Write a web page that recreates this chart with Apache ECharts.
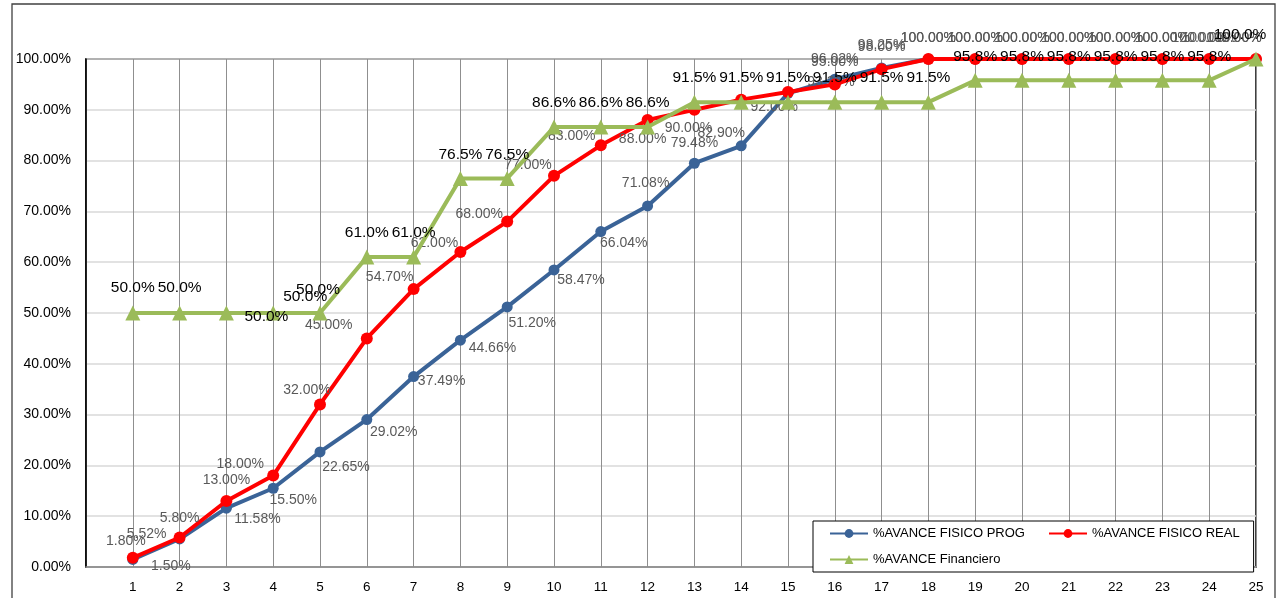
<!DOCTYPE html>
<html>
<head>
<meta charset="utf-8">
<script src="https://cdn.jsdelivr.net/npm/echarts@6/dist/echarts.min.js"></script>
<style>html,body{margin:0;padding:0;background:#fff}#c{width:1281px;height:598px}</style>
</head>
<body>
<div id="c"></div>
<script>
const categories = [1,2,3,4,5,6,7,8,9,10,11,12,13,14,15,16,17,18,19,20,21,22,23,24,25];
const fisicoProg = [1.50,5.52,11.58,15.50,22.65,29.02,37.49,44.66,51.20,58.47,66.04,71.08,79.48,82.90,93.26,96.02,98.25,100,100,100,100,100,100,100,100];
const fisicoReal = [1.80,5.80,13.00,18.00,32.00,45.00,54.70,62.00,68.00,77.00,83.00,88.00,90.00,92.00,93.50,95.00,98.00,100,100,100,100,100,100,100,100];
const financiero = [50.0,50.0,50.0,50.0,50.0,61.0,61.0,76.5,76.5,86.6,86.6,86.6,91.5,91.5,91.5,91.5,91.5,91.5,95.8,95.8,95.8,95.8,95.8,95.8,100.0];
const yTicks = [0,10,20,30,40,50,60,70,80,90,100];
const seriesNames = ['%AVANCE FISICO PROG','%AVANCE FISICO REAL','%AVANCE Financiero'];

const FONT = 'Liberation Sans';
// label offsets (label centre relative to point), null = hidden
const progOff = [[38,7],[-33,-5],[31,11],[20,12],[26,15],[27,13],[28,5],[32,8],[25,16],[27,10],[23,12],[-2,-23],[0,-20],[-20,-13],[43,-11],[0,-20],[0,-23],[0,-21],[0,-21],[0,-21],[0,-21],[0,-21],[0,-21],[-10,-21],[-22,-21]];
const realOff = [[-7,-17],[0,-19],[0,-21],[-33,-11],[-13,-14],[-38,-13],[-24,-12],[-26,-9],[-28,-7],[-26,-11],[-29,-9],[-5,19],[-6,18],[33,8],null,[0,-22],[0,-22],[0,-21],[0,-21],[0,-21],[0,-21],[0,-21],[0,-21],[0,-21],[-22,-21]];
const finOff = [[0,-25],[0,-25],[40,4],[32,-16],[-2,-23],[0,-24],[0,-24],[0,-24],[0,-24],[0,-24],[0,-24],[0,-24],[0,-24],[0,-24],[0,-24],[0,-24],[0,-24],[0,-24],[0,-24],[0,-24],[0,-24],[0,-24],[0,-24],[0,-24],[-16,-24]];

function build(vals, offs, dec, color, size) {
  return vals.map((v, i) => {
    const o = offs[i];
    return {
      value: [categories[i], v],
      label: o ? {show: true, position: 'inside', offset: o,
        formatter: () => v.toFixed(dec) + '%', color: color, fontSize: size, fontFamily: FONT}
        : {show: false}
    };
  });
}

const chart = echarts.init(document.getElementById('c'), null, {renderer: 'canvas'});
chart.setOption({
  animation: false,
  backgroundColor: '#fff',
  graphic: [{type: 'rect', shape: {x: 12, y: 4, width: 1263, height: 620}, style: {fill: 'none', stroke: '#404040', lineWidth: 1.3}, z: -1}],
  grid: {left: 86, top: 59, right: 25, bottom: 31, show: true, borderColor: '#000', borderWidth: 1.5, backgroundColor: 'transparent'},
  legend: {
    left: 813, top: 521, width: 440, orient: 'horizontal',
    padding: [5, 14, 5, 16], itemGap: 11, itemWidth: 38, itemHeight: 11,
    backgroundColor: '#fff', borderColor: '#000', borderWidth: 1,
    textStyle: {fontFamily: FONT, fontSize: 13, color: '#000', lineHeight: 15},
    data: [
      {name: seriesNames[0], textStyle: {width: 164}},
      {name: seriesNames[1]},
      {name: seriesNames[2]}
    ]
  },
  xAxis: {
    type: 'value', min: 0, max: 25, interval: 1,
    axisLine: {show: true, lineStyle: {color: '#8c8c8c', width: 1.5}},
    axisTick: {show: false},
    axisLabel: {color: '#000', fontFamily: FONT, fontSize: 13.5, margin: 13,
      formatter: v => (v >= 1 && categories.indexOf(v) >= 0) ? String(v) : ''},
    splitLine: {show: true, lineStyle: {color: '#8f8f8f', width: 1}}
  },
  yAxis: {
    type: 'value', min: yTicks[0], max: yTicks[yTicks.length - 1], interval: 10,
    axisLine: {show: true, lineStyle: {color: '#000', width: 1.5}},
    axisTick: {show: false},
    axisLabel: {color: '#000', fontFamily: FONT, fontSize: 14, margin: 15, formatter: v => v.toFixed(2) + '%'},
    splitLine: {show: true, lineStyle: {color: '#d9d9d9', width: 1.5}}
  },
  series: [
    {name: seriesNames[0], type: 'line', data: build(fisicoProg, progOff, 2, '#595959', 14),
      symbol: 'circle', symbolSize: 11, itemStyle: {color: '#3a6397'}, lineStyle: {color: '#3a6397', width: 4}, z: 3},
    {name: seriesNames[1], type: 'line', data: build(fisicoReal, realOff, 2, '#595959', 14),
      symbol: 'circle', symbolSize: 12, itemStyle: {color: '#ff0000'}, lineStyle: {color: '#ff0000', width: 4}, z: 4},
    {name: seriesNames[2], type: 'line', data: build(financiero, finOff, 1, '#000', 15.5),
      symbol: 'triangle', symbolSize: 15, itemStyle: {color: '#9bbb59'}, lineStyle: {color: '#9bbb59', width: 4}, z: 5}
  ]
});
</script>
</body>
</html>
